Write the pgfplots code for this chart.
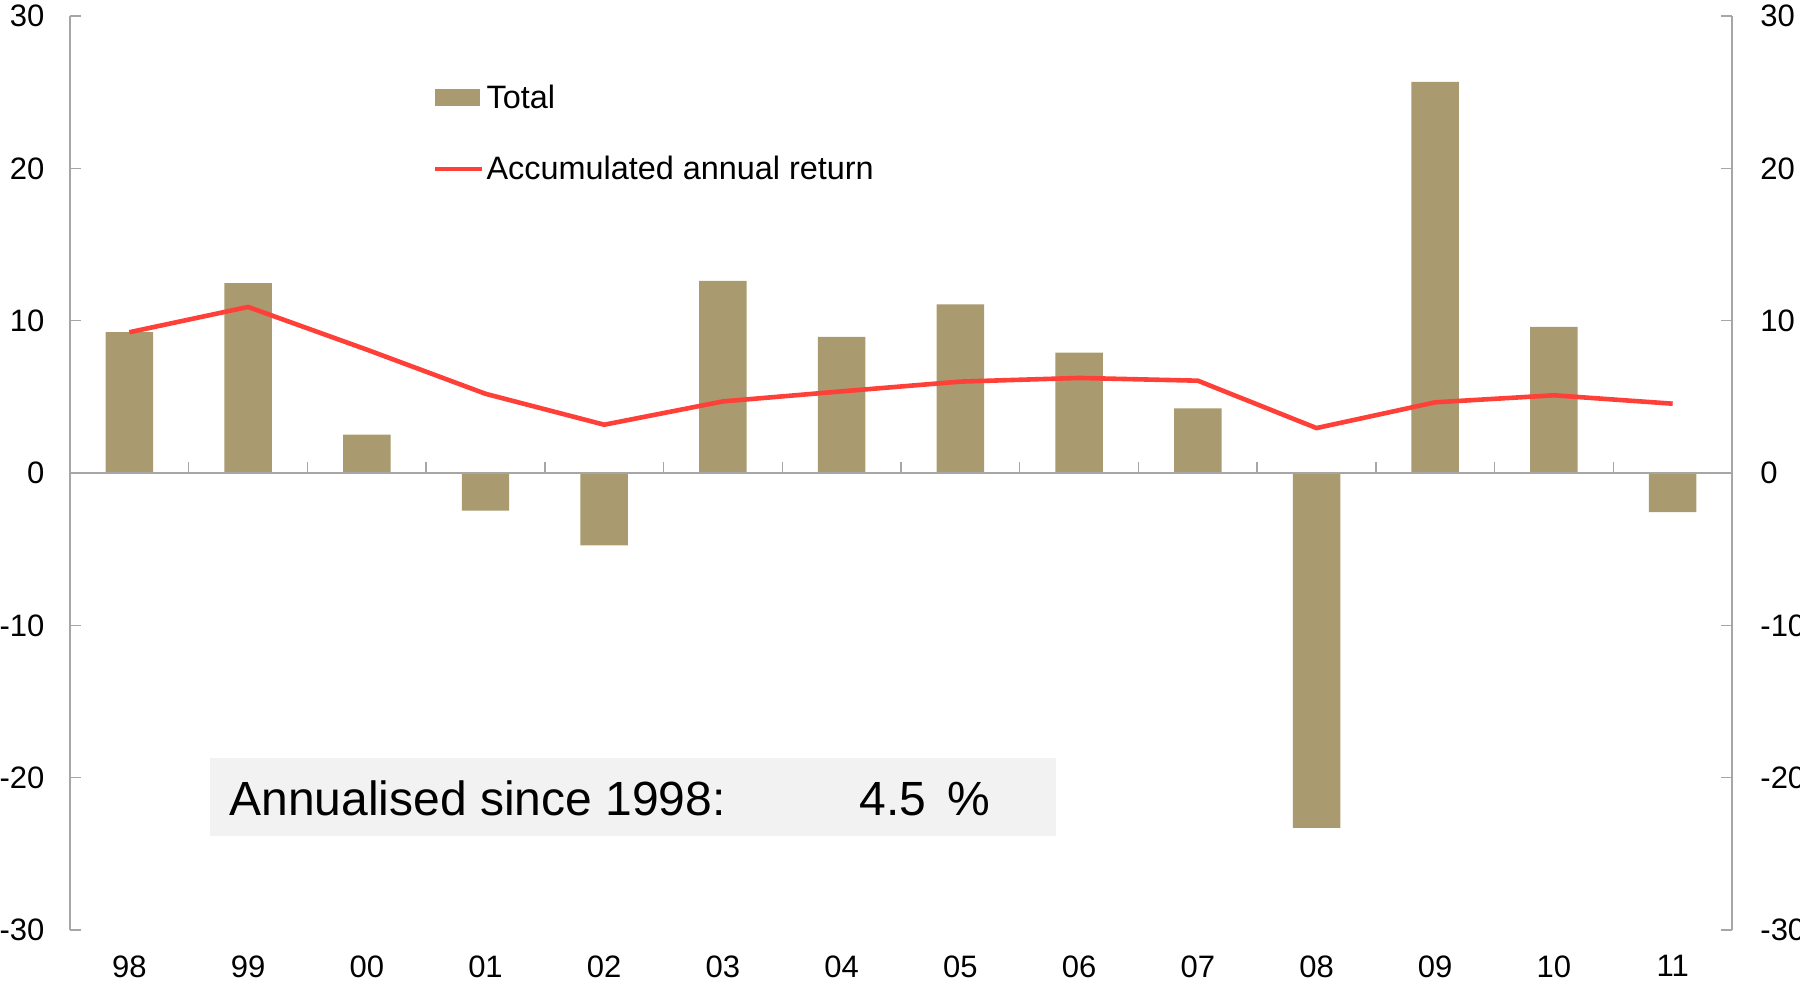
\documentclass[border=0pt]{standalone}
\usepackage{pgfplots}
\pgfplotsset{compat=1.18}
\usepackage{fontspec}
\setmainfont{Liberation Sans}
\definecolor{barcol}{RGB}{169,155,111}
\definecolor{linecol}{RGB}{255,64,56}
\definecolor{axgray}{RGB}{166,166,166}
\definecolor{boxgray}{RGB}{242,242,242}
\begin{document}
\begin{tikzpicture}
\begin{axis}[
  at={(0,0)}, anchor=south west,
  scale only axis, width=831pt, height=457pt,
  xmin=-0.5, xmax=13.5, ymin=-30, ymax=30,
  axis y line*=left, axis x line*=bottom,
  x axis line style={draw=none},
  y axis line style={axgray, line width=0.75pt, -},
  xtick={0,...,13},
  xticklabels={98,99,00,01,02,03,04,05,06,07,08,09,10,11},
  x tick style={draw=none},
  ytick={-30,-20,-10,0,10,20,30},
  yticklabels={-30,-20,-10,0,10,20,30},
  y tick style={axgray, line width=0.75pt},
  tick align=inside, major tick length=5.3pt,
  ticklabel style={font=\fontsize{15.5}{18}\selectfont, inner sep=0pt},
  yticklabel style={xshift=-12.6pt},
  xticklabel style={yshift=-12.5pt},
  legend style={at={(axis description cs:0.2184,0.925)}, anchor=north west,
    draw=none, fill=none, inner sep=0pt, outer sep=0pt,
    row sep=22.3pt, column sep=1pt,
    font=\fontsize{16.2}{19}\selectfont, nodes={inner sep=0pt}},
  legend cell align=left,
  clip=false,
]
\addplot[ybar, bar width=0.4, fill=barcol, draw=none,
  legend image code/.code={\fill[barcol] (0pt,-4.25pt) rectangle (22.5pt,4.25pt);}]
  coordinates {(0,9.24) (1,12.47) (2,2.52) (3,-2.47) (4,-4.75) (5,12.62) (6,8.93)
    (7,11.07) (8,7.9) (9,4.24) (10,-23.3) (11,25.68) (12,9.6) (13,-2.57)};
\addlegendentry{Total}
\addplot[linecol, line width=2.3pt, no marks,
  legend image code/.code={\draw[linecol, line width=2.3pt] (0pt,0pt) -- (23.5pt,0pt);}]
  coordinates {(0,9.24) (1,10.9) (2,8.1) (3,5.2) (4,3.17) (5,4.7) (6,5.36)
    (7,6.0) (8,6.24) (9,6.06) (10,2.95) (11,4.64) (12,5.1) (13,4.55)};
\addlegendentry{Accumulated annual return}
\draw[axgray, line width=0.75pt] (axis cs:-0.5,0) -- (axis cs:13.5,0);
\pgfplotsinvokeforeach{0.5,1.5,...,12.5}{\draw[axgray, line width=0.75pt] (axis cs:#1,0) -- ++(0pt,5.5pt);}
\fill[boxgray] (rel axis cs:0.0842,0.1028) rectangle (rel axis cs:0.5933,0.1882);
\node[anchor=base west, inner sep=0pt, font=\fontsize{24}{29}\selectfont]
  at (rel axis cs:0.0957,0.1258) {Annualised since 1998:};
\node[anchor=base west, inner sep=0pt, font=\fontsize{24}{29}\selectfont]
  at (rel axis cs:0.4747,0.1258) {4.5\ \kern3.8pt\%};
\end{axis}
\begin{axis}[
  at={(0,0)}, anchor=south west,
  scale only axis, width=831pt, height=457pt,
  xmin=-0.5, xmax=13.5, ymin=-30, ymax=30,
  axis y line*=right, axis x line=none,
  y axis line style={axgray, line width=0.75pt, -},
  ytick={-30,-20,-10,0,10,20,30},
  yticklabels={-30,-20,-10,0,10,20,30},
  y tick style={axgray, line width=0.75pt},
  tick align=inside, major tick length=5.3pt,
  ticklabel style={font=\fontsize{15.5}{18}\selectfont, inner sep=0pt},
  yticklabel style={xshift=14pt},
]
\end{axis}
\pgfresetboundingbox
\path (-35pt,-25.5pt) rectangle (865pt,465pt);
\end{tikzpicture}
\end{document}
